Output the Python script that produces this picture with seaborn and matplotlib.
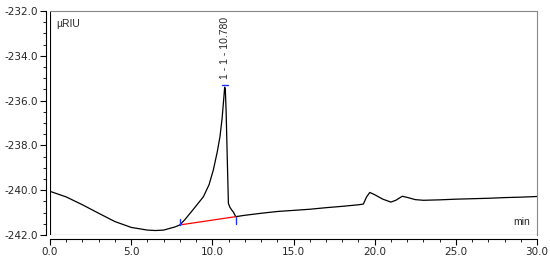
import numpy as np
import pandas as pd
import matplotlib
matplotlib.use("Agg")
import matplotlib.pyplot as plt
import seaborn as sns
from matplotlib.ticker import MultipleLocator, FormatStrFormatter

# ---- data ----
time_min = [0, 1, 2, 3, 4, 5, 6, 6.5, 7, 7.4, 7.7, 8.0, 8.3, 8.63, 9.0, 9.45, 9.8,
            10.06, 10.3, 10.47, 10.6, 10.68, 10.76, 10.8, 10.85, 10.92, 10.99,
            11.08, 11.19, 11.3, 11.44, 12, 13, 14, 15, 16, 17, 18,
            19, 19.3, 19.5, 19.7, 20.0, 20.5, 21.0, 21.3, 21.7, 22.0, 22.5, 23, 24,
            25, 26, 27, 28, 29, 30]
signal_uriu = [-240.05, -240.3, -240.65, -241.03, -241.4, -241.66, -241.78, -241.8,
               -241.78, -241.7, -241.64, -241.55, -241.32, -241.03, -240.7, -240.29,
               -239.75, -239.1, -238.3, -237.61, -236.8, -236.12, -235.4, -235.5,
               -236.5, -238.6, -240.59, -240.76, -240.88, -240.98, -241.18,
               -241.12, -241.03, -240.95, -240.9, -240.85, -240.78, -240.72, -240.65,
               -240.62, -240.3, -240.1, -240.2, -240.4, -240.53, -240.45, -240.27,
               -240.32, -240.42, -240.45, -240.43, -240.4, -240.38, -240.36, -240.33,
               -240.31, -240.28]
baseline_t = [8.0, 11.44]
baseline_v = [-241.55, -241.18]
peak_label = "1 - 1 - 10.780"
peak_t = 10.78
peak_v = -235.3
xticks = [0, 5, 10, 15, 20, 25, 30]
yticks = [-242, -240, -238, -236, -234, -232]

df = pd.DataFrame({"t": time_min, "v": signal_uriu})
bdf = pd.DataFrame({"t": baseline_t, "v": baseline_v})

sns.set_style("white")
plt.rcParams["font.family"] = ["DejaVu Sans"]
fig = plt.figure(figsize=(5.5, 2.58), dpi=100)
ax = fig.add_axes([0.0909, 0.0891, 0.8855, 0.8682])

sns.lineplot(data=df, x="t", y="v", ax=ax, color="black", linewidth=0.9,
             estimator=None, sort=False)
sns.lineplot(data=bdf, x="t", y="v", ax=ax, color="red", linewidth=0.9,
             estimator=None, sort=False)

# integration markers
ax.plot([baseline_t[0], baseline_t[0]], [baseline_v[0], baseline_v[0] + 0.25],
        color="#2030ff", lw=1.0)
ax.plot([baseline_t[1], baseline_t[1]], [baseline_v[1] - 0.32, baseline_v[1]],
        color="#2030ff", lw=1.0)
ax.plot([peak_t - 0.2, peak_t + 0.2], [peak_v, peak_v], color="#2030ff", lw=1.0)

ax.text(peak_t, peak_v + 0.25, peak_label, rotation=90, ha="center", va="bottom",
        fontsize=7.5, family="Liberation Sans")
ax.text(0.012, 0.965, "µRIU", transform=ax.transAxes, ha="left", va="top",
        fontsize=7.5, family="Liberation Sans")
ax.text(0.985, 0.035, "min", transform=ax.transAxes, ha="right", va="bottom",
        fontsize=7.5, family="Liberation Sans")

ax.set_xlim(0, 30)
ax.set_ylim(-242, -232)
ax.set_xticks(xticks)
ax.set_yticks(yticks)
ax.xaxis.set_major_formatter(FormatStrFormatter("%.1f"))
ax.yaxis.set_major_formatter(FormatStrFormatter("%.1f"))
ax.xaxis.set_minor_locator(MultipleLocator(1))
ax.yaxis.set_minor_locator(MultipleLocator(0.5))
ax.set_xlabel("")
ax.set_ylabel("")

for s in ["top", "right"]:
    ax.spines[s].set_color("#888888")
    ax.spines[s].set_linewidth(0.8)
for s in ["left", "bottom"]:
    ax.spines[s].set_color("black")
    ax.spines[s].set_linewidth(0.8)
    ax.spines[s].set_position(("outward", 3))

# inner frame lines on left/bottom
ax.axvline(0, color="black", lw=0.8)
ax.axhline(-242, color="black", lw=0.8)

ax.tick_params(which="major", direction="out", length=4, width=0.8, color="black",
               labelsize=7.5, pad=1.5)
ax.tick_params(which="minor", direction="out", length=2.5, width=0.6, color="black")
ax.tick_params(axis="x", which="both", bottom=True)
ax.tick_params(axis="y", which="both", left=True)

fig.savefig("out.png", dpi=100)
